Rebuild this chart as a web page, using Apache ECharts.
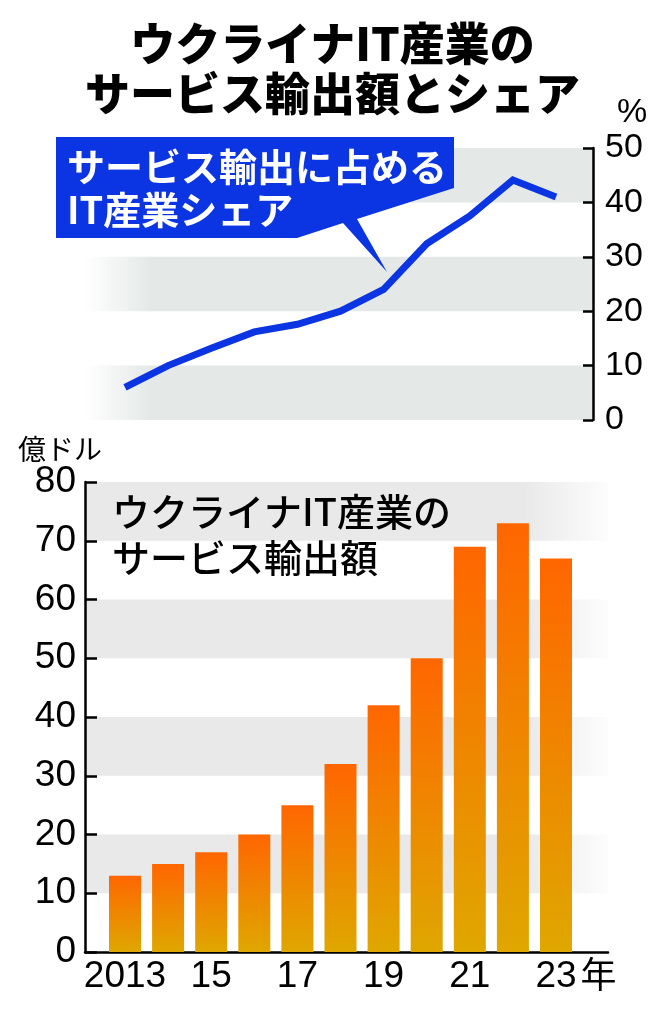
<!DOCTYPE html>
<html>
<head>
<meta charset="utf-8">
<script src="https://cdn.jsdelivr.net/npm/echarts@6/dist/echarts.min.js"></script>
<style>
  html, body { margin: 0; padding: 0; background: #fff; }
  #chart { width: 665px; height: 1024px; }
</style>
</head>
<body>
<div id="chart"></div>
<script>
// data
var years = [2013, 2014, 2015, 2016, 2017, 2018, 2019, 2020, 2021, 2022, 2023];
var exportsBn = [13, 15, 17, 20, 25, 32, 42, 50, 69, 73, 67];       // 億ドル
var itShare = [6, 10, 13.2, 16.2, 17.6, 20, 24, 32.4, 37.5, 44.1, 41]; // %
var yearLabels = ['2013', '15', '17', '19', '21', '23'];
var labelYears = [2013, 2015, 2017, 2019, 2021, 2023];

var CJK = '"Noto Sans CJK JP", sans-serif';
var NUM = '"Liberation Sans", Arial, sans-serif';
var BLUE = '#0b34e2';

var myChart = echarts.init(document.getElementById('chart'));

// layout: both charts share the same year scale
var plotLeft = 85;
var yearStep = 43.1;          // px per year
var firstCenter = 125;        // x of 2013
var topRight = 593, bottomRight = 608;
var xMin = years[0] - (firstCenter - plotLeft) / yearStep;
var xMaxTop = years[0] + (topRight - firstCenter) / yearStep;
var xMaxBottom = years[0] + (bottomRight - firstCenter) / yearStep;

// band colours (fade out at one side)
var topBand = new echarts.graphic.LinearGradient(0, 0, 1, 0, [
    { offset: 0, color: 'rgba(228,233,231,0)' },
    { offset: 0.13, color: 'rgba(228,233,231,1)' },
    { offset: 1, color: 'rgba(228,233,231,1)' }
]);
var bottomBand = new echarts.graphic.LinearGradient(0, 0, 1, 0, [
    { offset: 0, color: 'rgba(233,233,233,1)' },
    { offset: 0.84, color: 'rgba(233,233,233,1)' },
    { offset: 1, color: 'rgba(233,233,233,0.1)' }
]);

var option = {
    animation: false,
    title: {
        text: 'ウクライナIT産業の\nサービス輸出額とシェア',
        left: 'center',
        top: 19,
        padding: 0,
        textStyle: {
            fontFamily: CJK,
            fontSize: 45,
            fontWeight: 900,
            color: '#000',
            lineHeight: 50
        }
    },
    grid: [
        { left: plotLeft, right: 665 - topRight, top: 148, height: 272 },
        { left: plotLeft, right: 665 - bottomRight, top: 482, height: 470 }
    ],
    xAxis: [
        {
            gridIndex: 0,
            type: 'value',
            min: xMin,
            max: xMaxTop,
            show: false
        },
        {
            gridIndex: 1,
            type: 'value',
            min: xMin,
            max: xMaxBottom,
            splitLine: { show: false },
            axisTick: { show: false },
            axisLine: { show: true, lineStyle: { color: '#000', width: 2.5 } },
            axisLabel: {
                customValues: labelYears,
                formatter: function (v) {
                    var i = labelYears.indexOf(v);
                    return i >= 0 ? yearLabels[i] : '';
                },
                fontFamily: NUM,
                fontSize: 37,
                color: '#000',
                margin: 6
            },
            name: '年',
            nameLocation: 'end',
            nameGap: -8,
            nameTextStyle: {
                fontFamily: CJK,
                fontSize: 36,
                color: '#000',
                align: 'right',
                verticalAlign: 'top',
                padding: [4, 0, 0, 0]
            }
        }
    ],
    yAxis: [
        {
            gridIndex: 0,
            type: 'value',
            position: 'right',
            min: 0,
            max: 50,
            interval: 10,
            axisLine: { show: true, lineStyle: { color: '#000', width: 2.5 } },
            axisTick: { show: true, inside: true, length: 10, lineStyle: { color: '#000', width: 2.5 } },
            axisLabel: { fontFamily: NUM, fontSize: 34, color: '#000', margin: 12 },
            splitLine: { show: false },
            splitArea: { show: true, areaStyle: { color: [topBand, 'rgba(255,255,255,0)'] } },
            name: '%',
            nameLocation: 'end',
            nameGap: 18,
            nameTextStyle: {
                fontFamily: NUM,
                fontSize: 34,
                color: '#000',
                align: 'left',
                padding: [0, 0, 0, 24]
            }
        },
        {
            gridIndex: 1,
            type: 'value',
            min: 0,
            max: 80,
            interval: 10,
            axisLine: { show: true, lineStyle: { color: '#000', width: 2.5 } },
            axisTick: { show: true, inside: true, length: 12, lineStyle: { color: '#000', width: 2.5 } },
            axisLabel: { fontFamily: NUM, fontSize: 37, color: '#000', margin: 9 },
            splitLine: { show: false },
            splitArea: { show: true, areaStyle: { color: ['rgba(255,255,255,0)', bottomBand] } },
            name: '億ドル',
            nameLocation: 'end',
            nameGap: 18,
            nameTextStyle: {
                fontFamily: CJK,
                fontSize: 28,
                color: '#000',
                align: 'center',
                padding: [0, 50, 0, 0]
            }
        }
    ],
    graphic: [
        {
            type: 'polygon',
            z: 50,
            shape: {
                points: [[56, 137], [454, 137], [454, 188], [357, 219], [387, 272],
                         [343, 223], [297, 238], [56, 238]]
            },
            style: { fill: BLUE }
        },
        {
            type: 'text',
            z: 51,
            x: 67,
            y: 145,
            style: {
                text: 'サービス輸出に占める\nIT産業シェア',
                fill: '#fff',
                font: 'bold 38px ' + CJK,
                lineHeight: 43,
                verticalAlign: 'top'
            }
        },
        {
            type: 'text',
            z: 51,
            x: 112,
            y: 489,
            style: {
                text: 'ウクライナIT産業の\nサービス輸出額',
                fill: '#000',
                font: '500 38px ' + CJK,
                lineHeight: 46,
                verticalAlign: 'top'
            }
        }
    ],
    series: [
        {
            name: 'IT産業シェア',
            type: 'line',
            xAxisIndex: 0,
            yAxisIndex: 0,
            z: 60,
            symbol: 'none',
            data: years.map(function (y, i) { return [y, itShare[i]]; }),
            lineStyle: { color: BLUE, width: 7, cap: 'butt', join: 'miter' }
        },
        {
            name: 'サービス輸出額',
            type: 'bar',
            xAxisIndex: 1,
            yAxisIndex: 1,
            barWidth: 32,
            data: years.map(function (y, i) { return [y, exportsBn[i]]; }),
            itemStyle: {
                color: new echarts.graphic.LinearGradient(0, 0, 0, 1, [
                    { offset: 0, color: '#ff6600' },
                    { offset: 1, color: '#dfa700' }
                ])
            }
        }
    ]
};
myChart.setOption(option);
</script>
</body>
</html>
